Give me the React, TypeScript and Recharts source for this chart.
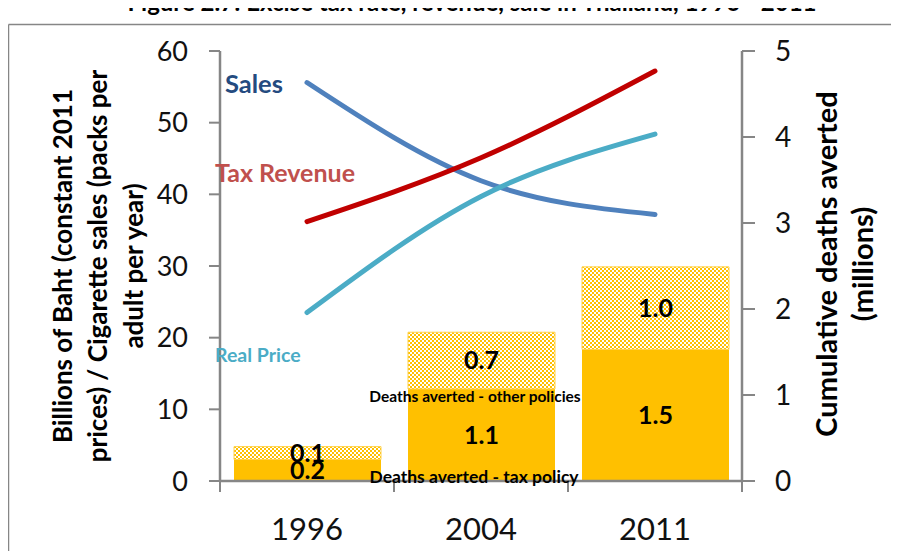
import React from 'react'
import {
    ComposedChart,
    Bar,
    Line,
    XAxis,
    YAxis,
    LabelList,
} from 'recharts'

const years = ['1996', '2004', '2011']
const sales = [55.6, 41.9, 37.2]
const taxRevenue = [36.2, 45.1, 57.2]
const realPrice = [23.5, 39.7, 48.4]
const deathsTax = [0.25, 1.07, 1.53]
const deathsOther = [0.15, 0.66, 0.96]
const taxLabels = ['0.2', '1.1', '1.5']
const otherLabels = ['0.1', '0.7', '1.0']
const leftTicks = [0, 10, 20, 30, 40, 50, 60]
const rightTicks = [0, 1, 2, 3, 4, 5]

const FONT = 'Lato, "Open Sans", sans-serif'
const AXIS = '#868686'

const data = years.map((y, i) => ({
    year: y,
    sales: sales[i],
    taxRevenue: taxRevenue[i],
    realPrice: realPrice[i],
    deathsTax: deathsTax[i],
    deathsOther: deathsOther[i],
    taxLabel: taxLabels[i],
    otherLabel: otherLabels[i],
}))

function YearTick(props: any) {
    const { x, y, payload, index } = props
    const half = payload?.offset ?? 87
    const axisY = y - 18
    return (
        <g>
            <line x1={x - half} y1={axisY} x2={x - half} y2={axisY + 11} stroke={AXIS} strokeWidth={2} />
            {index === years.length - 1 && (
                <line x1={x + half} y1={axisY} x2={x + half} y2={axisY + 11} stroke={AXIS} strokeWidth={2} />
            )}
            <text x={x} y={axisY + 59} textAnchor="middle" fontFamily={FONT} fontSize={31} fill="#111">
                {payload.value}
            </text>
        </g>
    )
}

const barLabel = { fontFamily: FONT, fontSize: 25, fontWeight: 700, fill: '#000' }

// text that sits on top of the plot (series names, notes, axis titles)
function Overlay() {
    return (
        <svg
            width={899}
            height={559}
            style={{ position: 'absolute', left: 0, top: 0, pointerEvents: 'none' }}
            fontFamily={FONT}
            fontWeight={700}
        >
            <rect x={884} y={27} width={15} height={532} fill="#fff" />
            <rect x={11} y={544} width={888} height={15} fill="#fff" />
            <line x1={8.5} y1={24.5} x2={899} y2={24.5} stroke={AXIS} strokeWidth={1.5} />
            <line x1={8.5} y1={24.5} x2={8.5} y2={559} stroke={AXIS} strokeWidth={1.5} />
            <text x={472} y={11} textAnchor="middle" fontSize={24} fill="#000">
                Figure 2.7: Excise tax rate, revenue, sale in Thailand, 1996 - 2011
            </text>

            <text x={225} y={93} fontSize={25.5} fill="#244B7F">Sales</text>
            <text x={215} y={182} fontSize={25} fill="#C0504D">Tax Revenue</text>
            <text x={215} y={362} fontSize={19.5} fill="#4BACC6">Real Price</text>
            <text x={475} y={402} textAnchor="middle" fontSize={15.5} fill="#000">Deaths averted - other policies</text>
            <text x={474} y={483} textAnchor="middle" fontSize={17.5} fill="#000">Deaths averted - tax policy</text>

            <g fontSize={26} fill="#000" textAnchor="middle">
                <text transform="translate(72,266) rotate(-90)">Billions of Baht (constant 2011</text>
                <text transform="translate(107,266) rotate(-90)">prices) / Cigarette sales (packs per</text>
                <text transform="translate(143,266) rotate(-90)">adult per year)</text>
            </g>
            <g fontSize={29} fill="#000" textAnchor="middle">
                <text transform="translate(837,264) rotate(-90)">Cumulative deaths averted</text>
                <text transform="translate(873,264) rotate(-90)">(millions)</text>
            </g>
        </svg>
    )
}

export default function App() {
    return (
        <div style={{ margin: -8, position: 'relative', width: 899, height: 559, overflow: 'hidden' }}>
            <ComposedChart
                width={899}
                height={559}
                data={data}
                margin={{ top: 51, right: 0, left: 0, bottom: 0 }}
                barSize={147}
            >
                <defs>
                    <pattern id="chk" width="4" height="4" patternUnits="userSpaceOnUse">
                        <rect width="4" height="4" fill="#fff" />
                        <rect width="2" height="2" fill="#FFC000" />
                        <rect x="2" y="2" width="2" height="2" fill="#FFC000" />
                    </pattern>
                </defs>
                <XAxis
                    dataKey="year"
                    height={78}
                    axisLine={{ stroke: AXIS, strokeWidth: 2.5 }}
                    tickLine={false}
                    tickSize={10}
                    tickMargin={8}
                    tick={<YearTick />}
                    interval={0}
                />
                <YAxis
                    yAxisId="left"
                    width={220}
                    domain={[0, 60]}
                    ticks={leftTicks}
                    interval={0}
                    axisLine={{ stroke: AXIS, strokeWidth: 2.5 }}
                    tickLine={{ stroke: AXIS, strokeWidth: 2 }}
                    tickSize={11}
                    tickMargin={21}
                    tick={{ fontFamily: FONT, fontSize: 27, fill: '#111' }}
                />
                <YAxis
                    yAxisId="right"
                    orientation="right"
                    width={157}
                    domain={[0, 5]}
                    ticks={rightTicks}
                    interval={0}
                    axisLine={{ stroke: AXIS, strokeWidth: 2.5 }}
                    tickLine={{ stroke: AXIS, strokeWidth: 2 }}
                    tickSize={13}
                    tickMargin={20}
                    tick={{ fontFamily: FONT, fontSize: 28, fill: '#111' }}
                />
                <Bar yAxisId="right" dataKey="deathsTax" stackId="d" fill="#FFC000" isAnimationActive={false}>
                    <LabelList dataKey="taxLabel" position="center" style={barLabel} />
                </Bar>
                <Bar
                    yAxisId="right"
                    dataKey="deathsOther"
                    stackId="d"
                    fill="url(#chk)"
                    stroke="#FFD24D"
                    strokeWidth={1}
                    isAnimationActive={false}
                >
                    <LabelList dataKey="otherLabel" position="center" style={barLabel} />
                </Bar>
                <Line yAxisId="left" type="monotone" dataKey="sales" stroke="#4F81BD" strokeWidth={5} strokeLinecap="round" dot={false} isAnimationActive={false} />
                <Line yAxisId="left" type="monotone" dataKey="taxRevenue" stroke="#C00000" strokeWidth={5} strokeLinecap="round" dot={false} isAnimationActive={false} />
                <Line yAxisId="left" type="monotone" dataKey="realPrice" stroke="#4BACC6" strokeWidth={5} strokeLinecap="round" dot={false} isAnimationActive={false} />
            </ComposedChart>
            <Overlay />
        </div>
    )
}
